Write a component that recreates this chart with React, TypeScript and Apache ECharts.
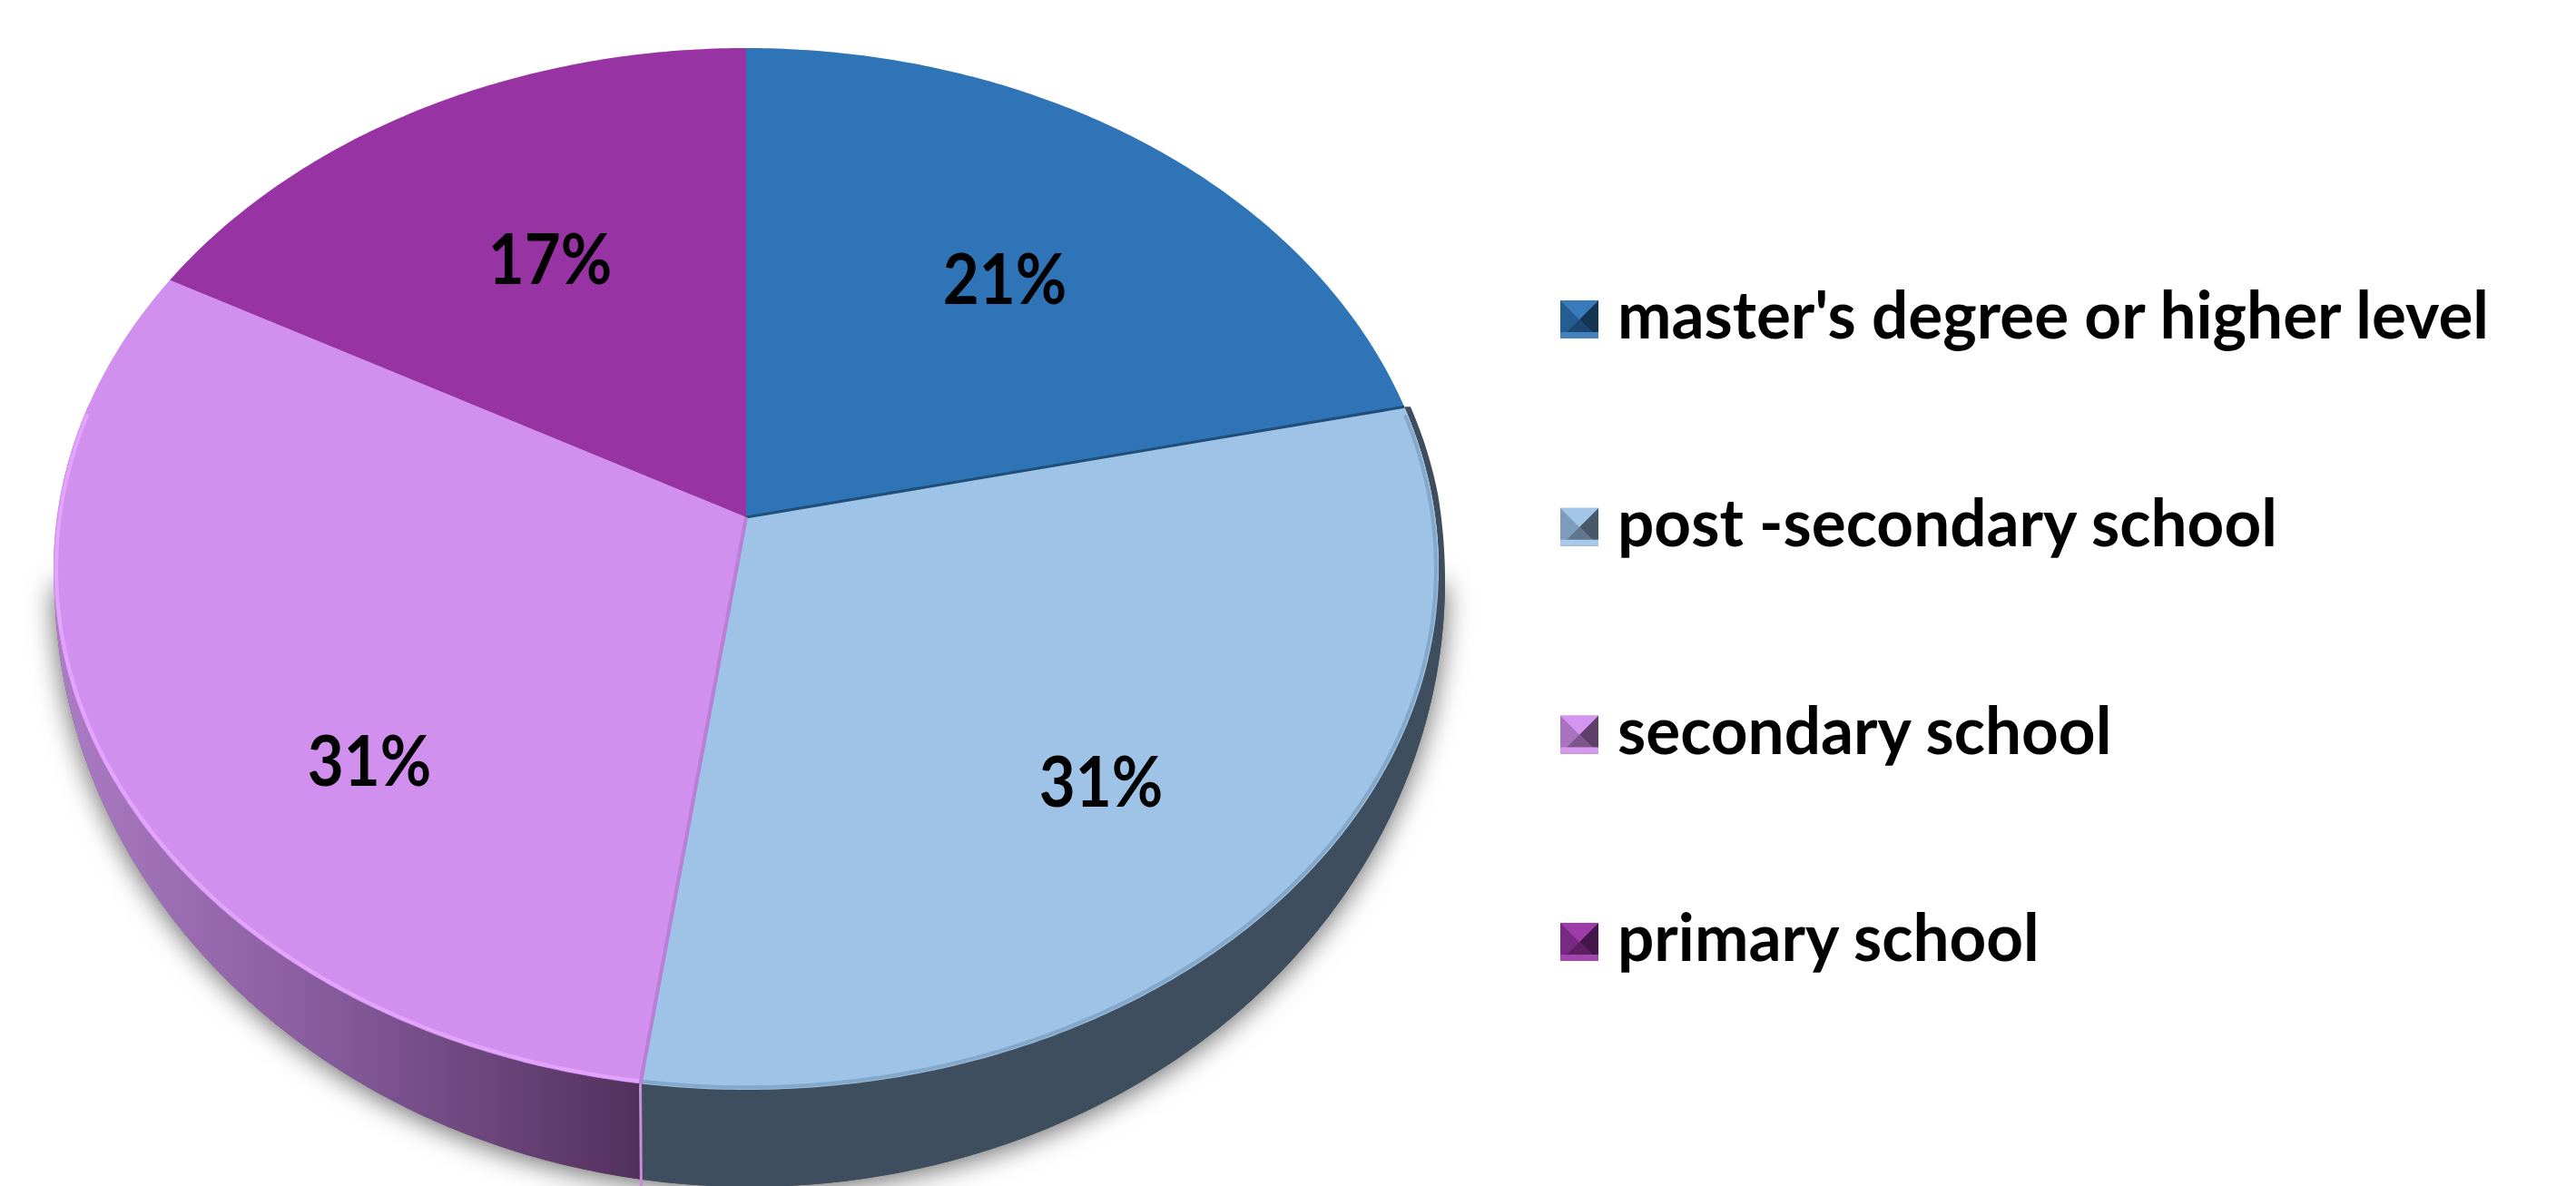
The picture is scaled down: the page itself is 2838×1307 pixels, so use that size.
import React, { useEffect, useRef } from "react";
import * as echarts from "echarts";

const categories = ["master's degree or higher level", "post -secondary school", "secondary school", "primary school"];
const shareValues = [21.49, 30.72, 30.79, 17.0];
const sliceColors = ["#2E74B7", "#9EC3E7", "#D18FEE", "#9833A4"];

const W = 2838, H = 1307;
const TOP = { cx: 822, cy: 627, rx: 763, ry: 574, b: -0.0993 };
const BASE = { cx: 826, cy: 640, rx: 766, ry: 668 };
const labelAt = [[1107, 306], [1213, 860], [407, 837], [606, 284]];
const edgeColors = [null, "#1F4E79", "#B97ED6", null];
const rimColors = [null, "#7FA5C6", "#E6A6FF", null];
const FONT = "Lato";

function project(theta: number, k = 1): number[] {
  const u = Math.sin(theta) * k, v = -Math.cos(theta) * k;
  const d = 1 + TOP.b * v;
  const X = (u * Math.sqrt(1 - TOP.b * TOP.b)) / d;
  const Y = (v + TOP.b) / d;
  return [TOP.cx + TOP.rx * X, TOP.cy + TOP.ry * Y, X, Y];
}

function arc(a0: number, a1: number, k = 1) {
  const pts: number[][] = [];
  const n = Math.max(2, Math.ceil(Math.abs(a1 - a0) / 0.01));
  for (let i = 0; i <= n; i++) pts.push(project(a0 + ((a1 - a0) * i) / n, k));
  return pts;
}

function shade(hex: string, f: number) {
  const n = parseInt(hex.slice(1), 16);
  const c = [(n >> 16) & 255, (n >> 8) & 255, n & 255].map((v) =>
    Math.round(f < 1 ? v * f : v + (255 - v) * (f - 1))
  );
  return `rgb(${c[0]},${c[1]},${c[2]})`;
}

const total = shareValues.reduce((a, b) => a + b, 0);

function sliceSeries(idx: number) {
  const before = shareValues.slice(0, idx).reduce((a, b) => a + b, 0);
  return {
    type: "custom",
    name: categories[idx],
    coordinateSystem: "none",
    silent: true,
    data: [[shareValues[idx]]],
    renderItem: (_: any, api: any) => {
      const value = api.value(0) as number;
      const a0 = (before / total) * Math.PI * 2;
      const a1 = ((before + value) / total) * Math.PI * 2;
      const apex = project(0, 0);
      const top = arc(a0, a1);
      const children: any[] = [];
      const front = top.filter((p) => p[3] >= -0.32);
      if (front.length > 1 && idx > 0 && idx < 3) {
        const outer = front.map((p) => {
          const qx = BASE.cx + BASE.rx * p[2];
          const qy = BASE.cy + BASE.ry * p[3];
          return [qx, Math.max(qy, p[1])];
        });
        const fill =
          idx === 1
            ? "#3F4E5E"
            : new echarts.graphic.LinearGradient(0, 0, 1, 0, [
                { offset: 0, color: "#AC7CC4" },
                { offset: 0.45, color: "#875C9E" },
                { offset: 1, color: "#52305C" },
              ]);
        children.push({
          type: "polygon",
          shape: { points: [...front.map((p) => [p[0], p[1]]), ...outer.reverse()] },
          style: { fill },
        });
      }
      children.push({
        type: "polygon",
        shape: { points: [[apex[0], apex[1]], ...top.map((p) => [p[0], p[1]])] },
        style: { fill: sliceColors[idx] },
      });
      if (rimColors[idx]) {
        const rim = arc(a0, a1, 0.996).filter((p) => p[3] >= -0.3);
        children.push({
          type: "polyline",
          shape: { points: rim.map((p) => [p[0], p[1]]) },
          style: {
            stroke: rimColors[idx],
            lineWidth: 4,
            lineCap: "round",
            fill: "none",
            opacity: 0.9,
          },
        });
      }
      if (edgeColors[idx]) {
        const s = project(a0);
        children.push({
          type: "line",
          shape: { x1: apex[0], y1: apex[1], x2: s[0], y2: s[1] },
          style: { stroke: edgeColors[idx], lineWidth: idx === 1 ? 3 : 4 },
        });
        if (idx === 2) {
          children.push({
            type: "line",
            shape: { x1: s[0], y1: s[1], x2: s[0] + 1, y2: s[1] + 116 },
            style: { stroke: "#C48FD8", lineWidth: 3 },
          });
        }
      }
      children.push({
        type: "text",
        x: labelAt[idx][0],
        y: labelAt[idx][1],
        scaleX: 0.985,
        scaleY: 1.08,
        style: {
          text: `${Math.round(value)}%`,
          fontFamily: FONT,
          fontWeight: 700,
          fontSize: 70,
          fill: "#000000",
          align: "center",
          verticalAlign: "middle",
        },
      });
      return { type: "group", children };
    },
  };
}

const shadowSeries = {
  type: "custom",
  name: "depth",
  coordinateSystem: "none",
  silent: true,
  data: [[0]],
  renderItem: () => {
    const pts: number[][] = [];
    for (let a = Math.PI / 2; a <= (Math.PI * 3) / 2; a += 0.01) {
      pts.push([BASE.cx + BASE.rx * Math.sin(a), BASE.cy - BASE.ry * Math.cos(a)]);
    }
    return {
      type: "polygon",
      shape: { points: pts },
      style: {
        fill: "#5A5A5A",
        shadowBlur: 30,
        shadowColor: "rgba(0,0,0,0.6)",
        shadowOffsetX: 0,
        shadowOffsetY: 4,
      },
    };
  },
};

const LEGEND = { markX: 1719, size: 42, textX: 1782, y0: 352, gap: 228.7 };

function legendGraphics() {
  const out: any[] = [];
  categories.forEach((name, i) => {
    const x = LEGEND.markX, s = LEGEND.size;
    const cy = LEGEND.y0 + LEGEND.gap * i;
    const y = cy - s / 2;
    const c = sliceColors[i];
    const m = [x + s / 2, y + s / 2];
    const tri = (pts: number[][], fill: any) => ({ type: "polygon", shape: { points: pts }, style: { fill } });
    out.push(
      { type: "rect", shape: { x, y, width: s, height: s }, style: { fill: c } },
      tri([[x, y], m, [x, y + s]], shade(c, 0.8)),
      tri([[x + s, y], m, [x + s, y + s]], shade(c, 0.45)),
      tri([[x, y + s], m, [x + s, y + s]], shade(c, 0.6)),
      tri([[x, y], [x + s, y], m], shade(c, 1.05)),
      { type: "rect", shape: { x, y: y + s - 7, width: s, height: 7 }, style: { fill: shade(c, 1.1) } },
      {
        type: "text",
        x: LEGEND.textX,
        y: cy - 7,
        scaleX: 0.987,
        scaleY: 1.0,
        style: {
          text: name,
          fontFamily: FONT,
          fontWeight: 700,
          fontSize: 72,
          fill: "#000000",
          align: "left",
          verticalAlign: "middle",
        },
      }
    );
  });
  return out;
}

export default function App() {
  const ref = useRef<HTMLDivElement>(null);
  useEffect(() => {
    const chart = echarts.init(ref.current!, undefined, { renderer: "svg" });
    chart.setOption({
      animation: false,
      backgroundColor: "#FFFFFF",
      series: [shadowSeries, ...categories.map((_, i) => sliceSeries(i))],
      graphic: { elements: legendGraphics() },
    });
    return () => chart.dispose();
  }, []);
  return <div ref={ref} style={{ position: "fixed", left: 0, top: 0, width: W, height: H }} />;
}
